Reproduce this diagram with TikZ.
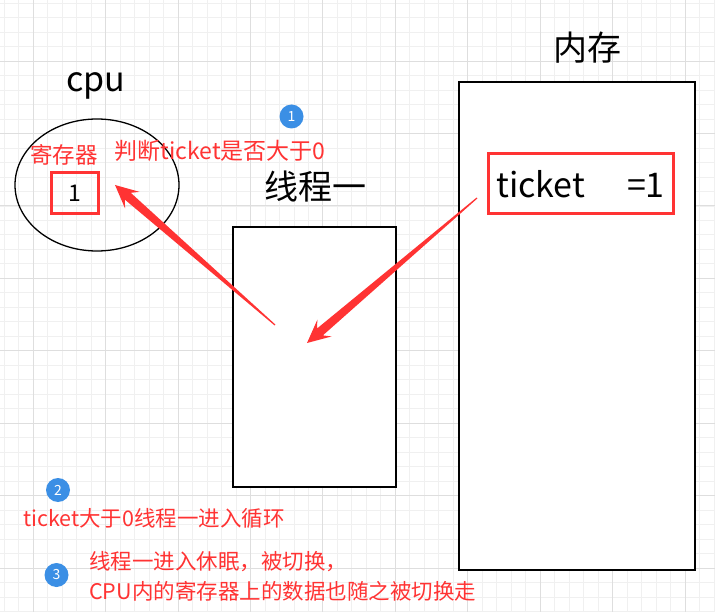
\documentclass[tikz,border=0pt]{standalone}
\usepackage{fontspec}
\setmainfont{Noto Sans CJK SC}
\usetikzlibrary{calc,shapes.geometric}
\definecolor{redc}{RGB}{255,51,51}
\definecolor{bluec}{RGB}{59,143,229}
\definecolor{gridminor}{RGB}{240,240,240}
\definecolor{gridmajor}{RGB}{222,222,222}
\newcommand{\taperarrow}[2]{%
  \path ($(#2)!17pt!(#1)$) coordinate (hb) ($(#2)!23pt!(#1)$) coordinate (hw);
  \fill[redc] ($(#1)!0.6pt!90:(#2)$) -- ($(hb)!4.5pt!90:(#2)$) -- ($(hw)!11pt!90:(#2)$) -- (#2)
    -- ($(hw)!11pt!-90:(#2)$) -- ($(hb)!4.5pt!-90:(#2)$) -- ($(#1)!0.6pt!-90:(#2)$) -- cycle;}
\begin{document}
\begin{tikzpicture}[x=1pt, y=-1pt,
  big/.style={font=\fontsize{34}{40}\selectfont, inner sep=0},
  redlbl/.style={text=redc, font=\fontsize{#1}{30}\selectfont, inner sep=0},
  redlbl/.default=21.5,
  badge/.style={circle, fill=bluec, text=white, minimum size=24pt, inner sep=0, font=\fontsize{14}{16}\selectfont},
  box/.style={draw, line width=1.6pt, minimum width=#1},
  redbox/.style={draw=redc, line width=3pt}]
\useasboundingbox (0,0) rectangle (715,612);
\fill[white] (0,0) rectangle (715,612);
\foreach \k in {0,...,49} \draw[gridminor, line width=0.8pt] ({4.1+14.49*\k},0) -- ({4.1+14.49*\k},612);
\foreach \k in {0,...,42} \draw[gridminor, line width=0.8pt] (0,{3.05+14.49*\k}) -- (715,{3.05+14.49*\k});
\foreach \k in {0,...,9} \draw[gridmajor, line width=0.8pt] ({33+72.45*\k},0) -- ({33+72.45*\k},612);
\foreach \k in {0,...,7} \draw[gridmajor, line width=0.8pt] (0,{61+72.45*\k}) -- (715,{61+72.45*\k});

\node[big] (cpulbl) at (96,86) {cpu};
\node[draw, ellipse, line width=1.3pt, minimum width=164, minimum height=132] (cpu) at (97,185) {};
\node[redlbl=22.5] (reglbl) at (64,154.5) {寄存器};
\node[redbox, minimum width=47, minimum height=41, font=\fontsize{23}{26}\selectfont] (reg) at (74.5,193.5) {1};
\node[redlbl=23] (judge) at (220,151) {判断ticket是否大于0};
\node[badge] (b1) at (291.5,116.5) {1};

\node[big] (threadlbl) at (315,187) {线程一};
\node[box=163, minimum height=260, fill=white] (thread) at (314.5,357) {};

\node[big] (memlbl) at (587,47.5) {内存};
\node[box=236, minimum height=488, fill=white] (mem) at (577,326) {};
\node[redbox, minimum width=185, minimum height=60] (ticketbox) at (580.5,184) {};
\node[font=\fontsize{34}{40}\selectfont, inner sep=0] (ticket) at (ticketbox) {ticket\hspace{42pt}=1};

\coordinate (a1tail) at (275,325);
\coordinate (a1tip) at (115,185);
\coordinate (a2tail) at (477,198);
\coordinate (a2tip) at (307,343);
\taperarrow{a1tail}{a1tip}
\taperarrow{a2tail}{a2tip}

\node[badge] (b2) at (58,490) {2};
\node[redlbl] (loop) at (154,518) {ticket大于0线程一进入循环};
\node[badge] (b3) at (56.5,575) {3};
\node[redlbl, anchor=west, align=left] (sleep) at (89,576) {线程一进入休眠，被切换，\\CPU内的寄存器上的数据也随之被切换走};
\end{tikzpicture}
\end{document}
